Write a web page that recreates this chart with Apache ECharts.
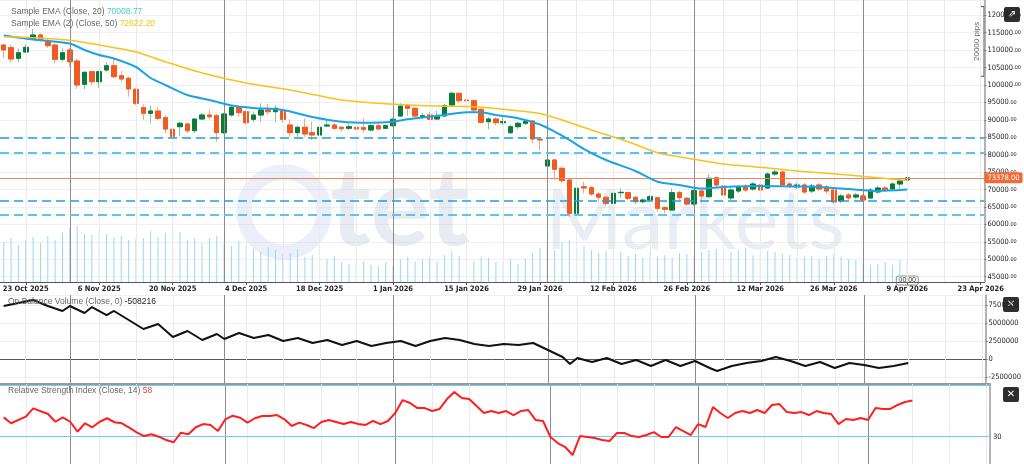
<!DOCTYPE html>
<html><head><meta charset="utf-8">
<script src="https://cdn.jsdelivr.net/npm/echarts@6/dist/echarts.min.js"></script>
<style>html,body{margin:0;padding:0;background:#fff;}#c{width:1024px;height:464px;}</style>
</head><body><div id="c"></div>
<script>
// ---------- DATA ----------
const startDate = [2025, 10, 20];      // first trading day shown (weekdays only)
const categoryCount = 134;             // trading-day slots on the axis (incl. empty future)
const labelStart = 3, labelEvery = 10; // '23 Oct 2025' then every 10 trading days

const opens = [111480,110710,107670,109470,113200,114350,112630,111480,107380,110050,
106890,100210,103820,100950,104310,105540,102670,101930,98770,93490,
91880,92540,90620,87300,88040,88820,86890,90250,91400,91200,
86320,91400,93780,92340,90160,91400,92830,92340,92630,88530,
86320,87870,86320,85660,88240,88530,87870,87580,87870,87750,
87090,88330,87580,88330,91110,94270,93320,90910,91400,90250,
91110,94270,97620,95700,95500,93030,89480,90250,89190,86320,
88040,89020,89680,84430,76770,78490,76110,72750,63200,70830,
70540,68730,67790,66060,69110,69110,67790,66520,67010,67670,
64800,64140,69110,67500,65860,69590,67960,73410,71030,67590,
69590,70740,70170,71320,70450,74470,75040,71600,70740,71320,
69590,71320,70740,69880,66720,68450,67870,68160,67590,69310,
70450,70170,71600,72750];
const closes = [110050,107460,109270,110820,114350,112920,111280,107380,109270,106690,
100010,103650,100950,103820,105540,102390,101730,98860,94750,91880,
92540,90450,87380,85170,89020,86890,90250,91400,90910,86320,
91680,93610,92060,89190,91400,92830,92340,93320,90160,86320,
87870,85950,85660,87870,88530,87580,87470,88040,87380,87300,
88330,87380,88330,90160,93980,93320,91110,91200,90160,90910,
94070,97620,95500,95500,92830,89300,90250,89190,89480,88040,
89020,89480,84510,84230,78490,75820,72550,63200,70370,70450,
68730,67790,66060,68930,69220,67500,66520,67010,67960,64630,
64340,69110,67670,65860,69680,68160,73240,71320,68450,69880,
70740,69880,71600,69880,74470,75040,71320,71030,71320,69310,
71030,70170,69590,66440,68160,67590,68450,67010,69880,70450,
69880,71600,72460,73378];
const lows = [107750,106520,106520,109100,112920,112430,110710,106230,106690,105260,
98860,98860,100010,99230,103820,101930,100950,96650,94270,89960,
89020,89960,86150,80780,85370,86150,86150,89960,90160,83740,
85950,90910,90910,88530,89190,89480,91400,89190,89190,85170,
85170,85170,84230,85170,87870,87090,86610,87090,86890,86320,
86610,87090,87300,88040,90910,91110,90740,90160,89960,89960,
90910,93980,94750,94270,92340,89020,87300,88530,88530,85950,
87300,88530,83280,81160,74670,72950,71970,62220,60130,68930,
68160,66520,65290,65780,67500,67010,65860,66060,66720,63650,
63200,63940,67010,65290,65290,66240,67500,70830,67960,67010,
69020,69310,69590,69020,70170,73900,70740,70450,70170,68730,
69020,69590,68730,65860,66150,67010,67300,66440,67300,68730,
69310,69880,70170,71600];
const highs = [111770,111480,110530,111680,116070,114840,113200,111970,110530,110710,
107670,103820,104110,104110,106520,107670,104020,102390,99060,94470,
94070,93780,91400,88040,89480,89190,90450,92060,93030,91680,
92060,94270,94270,92630,92340,94750,94550,94270,92830,90160,
88240,90450,89480,89480,90160,89020,88240,88820,89020,90450,
88820,89020,88730,90450,94750,94550,93610,92060,92340,92630,
94550,98080,97800,95900,95900,93320,90740,90740,90740,88530,
89480,89960,89960,84710,78690,78780,76570,73240,71970,72260,
71030,69390,68160,69680,70370,69390,68160,67500,68450,67960,
65290,70370,69680,67960,70080,69880,74470,73700,71320,70740,
71320,71600,72180,71890,75040,76190,75330,72180,71890,71890,
71600,71890,71320,70450,68730,69020,69020,68730,70450,71030,
71030,72180,73040,73900];
const volumes = [40,44,37,42,45,39,46,42,49,54, 56,48,47,52,48,45,46,42,43,44,
51,45,49,54,50,42,44,39,44,46, 38,36,41,36,33,30,35,32,28,29,
33,25,27,24,23,26,20,18,22,20, 17,16,20,16,23,25,20,23,25,20,
27,31,26,23,21,25,24,20,20,23, 18,24,29,34,37,32,40,42,34,36,
32,29,31,27,30,26,28,24,30,25, 27,24,29,28,26,30,32,33,28,30,
32,34,27,29,31,30,28,27,24,25, 26,23,26,28,25,23,22,20,17,18,
20,17,22,22];
// indicator readings [trading-day index, value]
const ema20 = [[0,114200],[4,113060],[9,111910],[11,110050],[13,108610],[15,107610],[18,105170],[20,102010],
[22,100010],[25,97130],[28,95700],[31,94120],[34,93410],[38,92830],[42,90820],[46,89480],[50,89190],
[53,89480],[55,90160],[58,90910],[60,91400],[63,92170],[65,92170],[67,91400],[70,90450],[73,88670],
[75,86610],[77,84230],[79,81640],[82,78490],[86,75330],[89,72260],[92,71310],[95,70310],[98,70740],
[103,71030],[107,70880],[111,70740],[115,70170],[119,69590],[123,70008.77]];
const ema50 = [[0,113860],[4,113580],[9,112860],[13,111480],[18,109470],[22,106690],[27,103450],[33,100580],
[39,98570],[46,95700],[50,94930],[55,94270],[59,93980],[64,93780],[68,93030],[73,91830],[76,89960],
[80,87090],[85,83740],[89,80580],[94,78690],[98,77340],[103,76390],[108,75330],[115,74180],[123,72622.2]];
const obv = [[0,7400000],[2,7820000],[4,8240000],[6,7400000],[8,6710000],[9,7400000],[11,6430000],[12,7260000],
[14,6150000],[15,6710000],[17,5460000],[19,4210000],[21,4900000],[23,3100000],[25,3930000],[27,2680000],
[29,3510000],[30,2820000],[32,3650000],[34,2960000],[36,3380000],[38,2540000],[40,2960000],[42,2260000],
[44,2680000],[46,1990000],[48,2540000],[50,1850000],[52,2260000],[54,2540000],[56,1850000],[58,2540000],
[60,2960000],[62,2680000],[64,2130000],[66,1850000],[68,2130000],[70,1990000],[72,2260000],[74,1290000],
[76,320000],[77,-650000],[78,180000],[80,-380000],[82,180000],[84,-650000],[86,-100000],[88,-930000],
[90,-100000],[92,-930000],[94,-240000],[96,-1210000],[97,-1630000],[99,-930000],[101,-510000],[103,-240000],
[105,320000],[107,-240000],[109,-930000],[111,-380000],[113,-1210000],[115,-510000],[117,-790000],
[119,-1210000],[121,-930000],[123,-508216]];
const rsi = [[0,45.0],[1,40.4],[3,45.5],[4,52.0],[6,47.6],[7,41.6],[8,45.0],[9,41.6],[10,33.9],[11,40.4],
[12,37.3],[13,41.6],[14,44.3],[15,41.2],[16,40.4],[17,37.0],[18,33.4],[19,30.5],[20,31.9],[21,30.0],
[22,27.4],[23,25.7],[24,33.1],[25,31.9],[26,37.3],[27,39.8],[28,39.1],[29,34.4],[30,43.5],[31,46.3],
[32,44.7],[33,40.9],[34,44.3],[35,46.0],[36,46.0],[37,46.8],[38,43.5],[39,38.3],[40,40.9],[41,39.1],
[42,36.7],[43,41.4],[44,42.9],[45,41.4],[46,39.8],[47,41.4],[48,39.8],[49,39.1],[50,42.2],[51,39.8],
[52,42.2],[53,48.4],[54,58.4],[55,56.1],[56,52.2],[57,52.2],[58,49.9],[59,51.5],[60,59.2],[61,64.7],
[62,60.0],[63,59.2],[64,53.8],[65,48.4],[66,49.9],[67,48.4],[68,49.9],[69,46.8],[70,49.9],[71,50.7],
[72,42.9],[73,42.2],[74,29.8],[75,25.1],[76,22.0],[77,15.8],[78,30.5],[79,29.8],[80,29.0],[81,27.4],
[82,26.7],[83,32.9],[84,32.9],[85,30.5],[86,29.8],[87,31.3],[88,33.6],[89,29.8],[90,29.8],[91,37.5],
[92,34.4],[93,31.3],[94,39.8],[95,37.5],[96,53.0],[97,48.4],[98,44.5],[99,48.4],[100,49.9],[101,48.4],
[102,50.7],[103,48.4],[104,54.6],[105,55.3],[106,49.1],[107,48.4],[108,49.1],[109,46.8],[110,49.9],
[111,48.4],[112,47.6],[113,39.8],[114,43.7],[115,42.9],[116,44.5],[117,42.9],[118,52.2],[119,51.5],
[120,51.5],[121,54.6],[122,56.9],[123,58]];
const levelLines = [85000, 80600, 66800, 62900];
const lastPrice = 73378;
const ema20Last = '70008.77', ema50Last = '72622.20', obvLast = '-508216', rsiLast = '58';
const monthLines = ['2025-10-31','2025-12-01','2026-01-01','2026-01-30','2026-02-27','2026-04-01'];
const rsiLevels = [30, 70];
const pipsRange = [102500, 122500];

// ---------- BUILD ----------
const MON = ['Jan','Feb','Mar','Apr','May','Jun','Jul','Aug','Sep','Oct','Nov','Dec'];
const pad = n => (n < 10 ? '0' : '') + n;
const categories = [];
let t = Date.UTC(startDate[0], startDate[1]-1, startDate[2]);
while (categories.length < categoryCount) {
  const dd = new Date(t), wd = dd.getUTCDay();
  if (wd !== 0 && wd !== 6) categories.push(dd.getUTCFullYear()+'-'+pad(dd.getUTCMonth()+1)+'-'+pad(dd.getUTCDate()));
  t += 86400000;
}
const fmtDate = s => { const p = s.split('-'); return (+p[2]) + ' ' + MON[+p[1]-1] + ' ' + p[0]; };
const isLabel = i => i >= labelStart && (i - labelStart) % labelEvery === 0;
const monthIdx = monthLines.map(m => categories.indexOf(m));
const lightIdx = [];
for (let i = labelStart; i < categoryCount; i += 5) {
  if (!monthIdx.some(m => Math.abs(m - i) <= 2)) lightIdx.push(i);
}
const vLines = lightIdx.map(i => ({xAxis: categories[i], lineStyle:{color:'#ebebeb', width:1, type:'solid'}}))
  .concat(monthLines.map(m => ({xAxis: m, lineStyle:{color:'#8c8c8c', width:1, type:'solid'}})));

const candles = opens.map((o,i) => [o, closes[i], lows[i], highs[i]]);
const bodies = opens.map((o,i) => [o, closes[i], Math.min(o,closes[i]), Math.max(o,closes[i])]);

const AX = "'DejaVu Sans Condensed', 'Liberation Sans', sans-serif";
const SANS = "'Liberation Sans', Arial, sans-serif";
const LEFT = -1.5, RIGHT = 34;

const chart = echarts.init(document.getElementById('c'), null, {renderer:'canvas'});
const xBase = (gi, extra) => Object.assign({
  type:'category', gridIndex: gi, data: categories, boundaryGap: true,
  axisLabel:{show:false}, axisTick:{show:false}, splitLine:{show:false}
}, extra);
const yRight = extra => Object.assign({
  type:'value', position:'right', scale:false,
  axisLine:{show:true, lineStyle:{color:'#9a9a9a', width:1.5}},
  axisTick:{show:true, length:2, lineStyle:{color:'#777'}},
  axisLabel:{color:'#222', fontFamily:AX, fontSize:7.5, margin:3, showMinLabel:false, showMaxLabel:false,
             formatter: v => String(v)},
  splitLine:{show:true, lineStyle:{color:'#f0f0f0', width:1}}
}, extra);
const rs = (color) => ({color:color, fontFamily:SANS, fontSize:8.5, fontWeight:'normal', lineHeight:12});

chart.setOption({
  animation:false,
  backgroundColor:'#ffffff',
  title:[
    {left:6, top:1, text:'{a|Sample EMA (Close, 20)} {b|'+ema20Last+'}\n{a|Sample EMA (2) (Close, 50)} {c|'+ema50Last+'}',
     textStyle:{fontFamily:SANS, fontSize:8.5, fontWeight:'normal', lineHeight:12,
       rich:{a:rs('#666'), b:rs('#40cfd2'), c:rs('#f5c518')}}},
    {left:3, top:291, text:'{a|On Balance Volume (Close, 0)} {b|'+obvLast+'}',
     textStyle:{fontFamily:SANS, fontSize:8.5, fontWeight:'normal', rich:{a:rs('#666'), b:rs('#222')}}},
    {left:3, top:380, text:'{a|Relative Strength Index (Close, 14)} {b|'+rsiLast+'}',
     textStyle:{fontFamily:SANS, fontSize:8.5, fontWeight:'normal', rich:{a:rs('#666'), b:rs('#ff3b3b')}}}
  ],
  grid:[
    {left:LEFT, right:RIGHT, top:0, height:282},
    {left:LEFT, right:RIGHT, top:295, height:88},
    {left:LEFT, right:RIGHT, top:384, height:80}
  ],
  xAxis:[
    xBase(0, {
      axisLine:{show:true, lineStyle:{color:'#555', width:1}},
      axisTick:{show:true, alignWithLabel:true, interval:(i)=>isLabel(i), length:3, lineStyle:{color:'#555'}},
      axisLabel:{show:true, interval:(i)=>isLabel(i), formatter:fmtDate, color:'#222', fontFamily:AX,
                 fontSize:7.5, fontWeight:'bold', margin:3}
    }),
    xBase(1, {position:'top', axisLine:{show:true, lineStyle:{color:'#555', width:1}}}),
    xBase(2, {position:'top', axisLine:{show:true, lineStyle:{color:'#999', width:2}}})
  ],
  yAxis:[
    yRight({gridIndex:0, min:43485, max:124391, minInterval:5000, maxInterval:5000, splitNumber:16,
      axisLabel:{color:'#222', fontFamily:AX, fontSize:7.5, margin:3, showMinLabel:false, showMaxLabel:false,
        formatter: v => v + '{s|.00}', rich:{s:{fontSize:5.5, fontFamily:AX, color:'#222'}}}}),
    {type:'value', gridIndex:0, show:false, min:0, max:282, splitLine:{show:false}},
    yRight({gridIndex:1, min:-3291667, max:8930556, minInterval:2500000, maxInterval:2500000, splitNumber:5}),
    yRight({gridIndex:2, min:8.84, max:70.85, axisLabel:{show:false}, axisTick:{show:false}, splitLine:{show:false}})
  ],
  series:[
    {type:'bar', name:'Volume', xAxisIndex:0, yAxisIndex:1, data:volumes, barWidth:1, z:1,
     itemStyle:{color:'#9ad7f4'}, silent:true,
     markLine:{silent:true, symbol:'none', label:{show:false}, data:vLines}},
    {type:'candlestick', name:'wick', xAxisIndex:0, yAxisIndex:0, data:candles, barWidth:5, z:3,
     itemStyle:{color:'rgba(0,0,0,0)', color0:'rgba(0,0,0,0)', borderColor:'#86c8a1', borderColor0:'#f5a888', borderWidth:1},
     markLine:{silent:true, symbol:'none', label:{show:false},
       data: levelLines.map((v,i) => ({yAxis:v, lineStyle:{color: i%2 ? '#5cc4f2' : '#1e9fe0', width: i%2 ? 2 : 1.5, type:[9,5]}}))}},
    {type:'candlestick', name:'body', xAxisIndex:0, yAxisIndex:0, data:bodies, barWidth:5, z:4,
     itemStyle:{color:'#0b7b3c', color0:'#f25a24', borderColor:'#0b7b3c', borderColor0:'#f25a24', borderWidth:1},
     markLine:{silent:true, symbol:'none',
       data:[{yAxis:lastPrice, lineStyle:{color:'#f2845c', width:1, type:'solid'},
         label:{show:true, position:'end', distance:0, formatter: lastPrice.toFixed(2), color:'#fff',
           backgroundColor:'#f26a35', padding:[2,3,1,3], borderRadius:2, fontFamily:AX, fontSize:7.5}}]}},
    {type:'line', name:'EMA20', xAxisIndex:0, yAxisIndex:0, data:ema20, smooth:0.25, showSymbol:false, z:5,
     lineStyle:{color:'#1ca3e6', width:2}},
    {type:'line', name:'EMA50', xAxisIndex:0, yAxisIndex:0, data:ema50, smooth:0.25, showSymbol:false, z:5,
     lineStyle:{color:'#f7c21a', width:1.5}},
    {type:'line', name:'OBV', xAxisIndex:1, yAxisIndex:2, data:obv, showSymbol:false, z:5,
     lineStyle:{color:'#111', width:2},
     markLine:{silent:true, symbol:'none', label:{show:false}, data:vLines}},
    {type:'line', name:'RSI', xAxisIndex:2, yAxisIndex:3, data:rsi, showSymbol:false, z:5,
     lineStyle:{color:'#ff1f1f', width:2},
     markLine:{silent:true, symbol:'none',
       data: vLines.map(d => Object.assign({label:{show:false}}, d)).concat(rsiLevels.map(v => ({yAxis:v,
         lineStyle:{color:'#6ccff5', width:1, type:'solid'},
         label:{show: v===30, position:'end', distance:3, formatter:String(v), color:'#222', fontFamily:AX, fontSize:7.5}})))}}
  ]
});

// decorations (watermark, pane icons, measure bracket)
const yTop = chart.convertToPixel({yAxisIndex:0}, pipsRange[1]);
const yBot = chart.convertToPixel({yAxisIndex:0}, pipsRange[0]);
const lastX = chart.convertToPixel({xAxisIndex:0}, categories[opens.length-1]);
const icon = (x, y, txt, fs) => ({type:'group', x:x, y:y, children:[
  {type:'rect', shape:{x:0, y:0, width:16, height:15, r:2}, style:{fill:'#2e2e2e'}},
  {type:'text', x:8, y:7.5, style:{text:txt, fill:'#fff', font:'bold '+fs+'px "DejaVu Sans"', align:'center', verticalAlign:'middle'}}
]});
const WM = "Lato, 'Open Sans', 'Noto Sans', 'DejaVu Sans', sans-serif";
chart.setOption({graphic:{elements:[
  {type:'circle', silent:true, z:0, shape:{cx:284, cy:212, r:40}, style:{fill:'none', stroke:'rgba(180,186,232,0.25)', lineWidth:15}},
  {type:'text', silent:true, z:0, x:330, y:210, style:{text:'tet', fill:'rgba(165,175,205,0.25)', font:'bold 110px '+WM, verticalAlign:'middle'}},
  {type:'text', silent:true, z:0, x:545, y:222, style:{text:'Markets', fill:'rgba(165,175,205,0.22)', font:'normal 84px '+WM, verticalAlign:'middle'}},
  {type:'polyline', silent:true, shape:{points:[[980,yTop],[984,yTop],[984,yBot],[980,yBot]]}, style:{stroke:'#555', lineWidth:1, fill:'none'}},
  {type:'text', silent:true, x:977, y:(yTop+yBot)/2, rotation:Math.PI/2,
   style:{text:'20000 pips', fill:'#666', font:"8px 'Liberation Sans'", align:'center', verticalAlign:'middle'}},
  icon(1004, 7, '⇗', 10), icon(1003, 297, '✕', 10), icon(1003, 387, '✕', 10),
  {type:'group', x:lastX-11, y:276, children:[
    {type:'rect', shape:{x:0, y:0, width:22, height:9, r:2}, style:{fill:'#fff', stroke:'#888', lineWidth:1}},
    {type:'text', x:11, y:4.5, style:{text:'00:00', fill:'#333', font:"7px 'Liberation Sans'", align:'center', verticalAlign:'middle'}}
  ]}
]}});
</script>
</body></html>
